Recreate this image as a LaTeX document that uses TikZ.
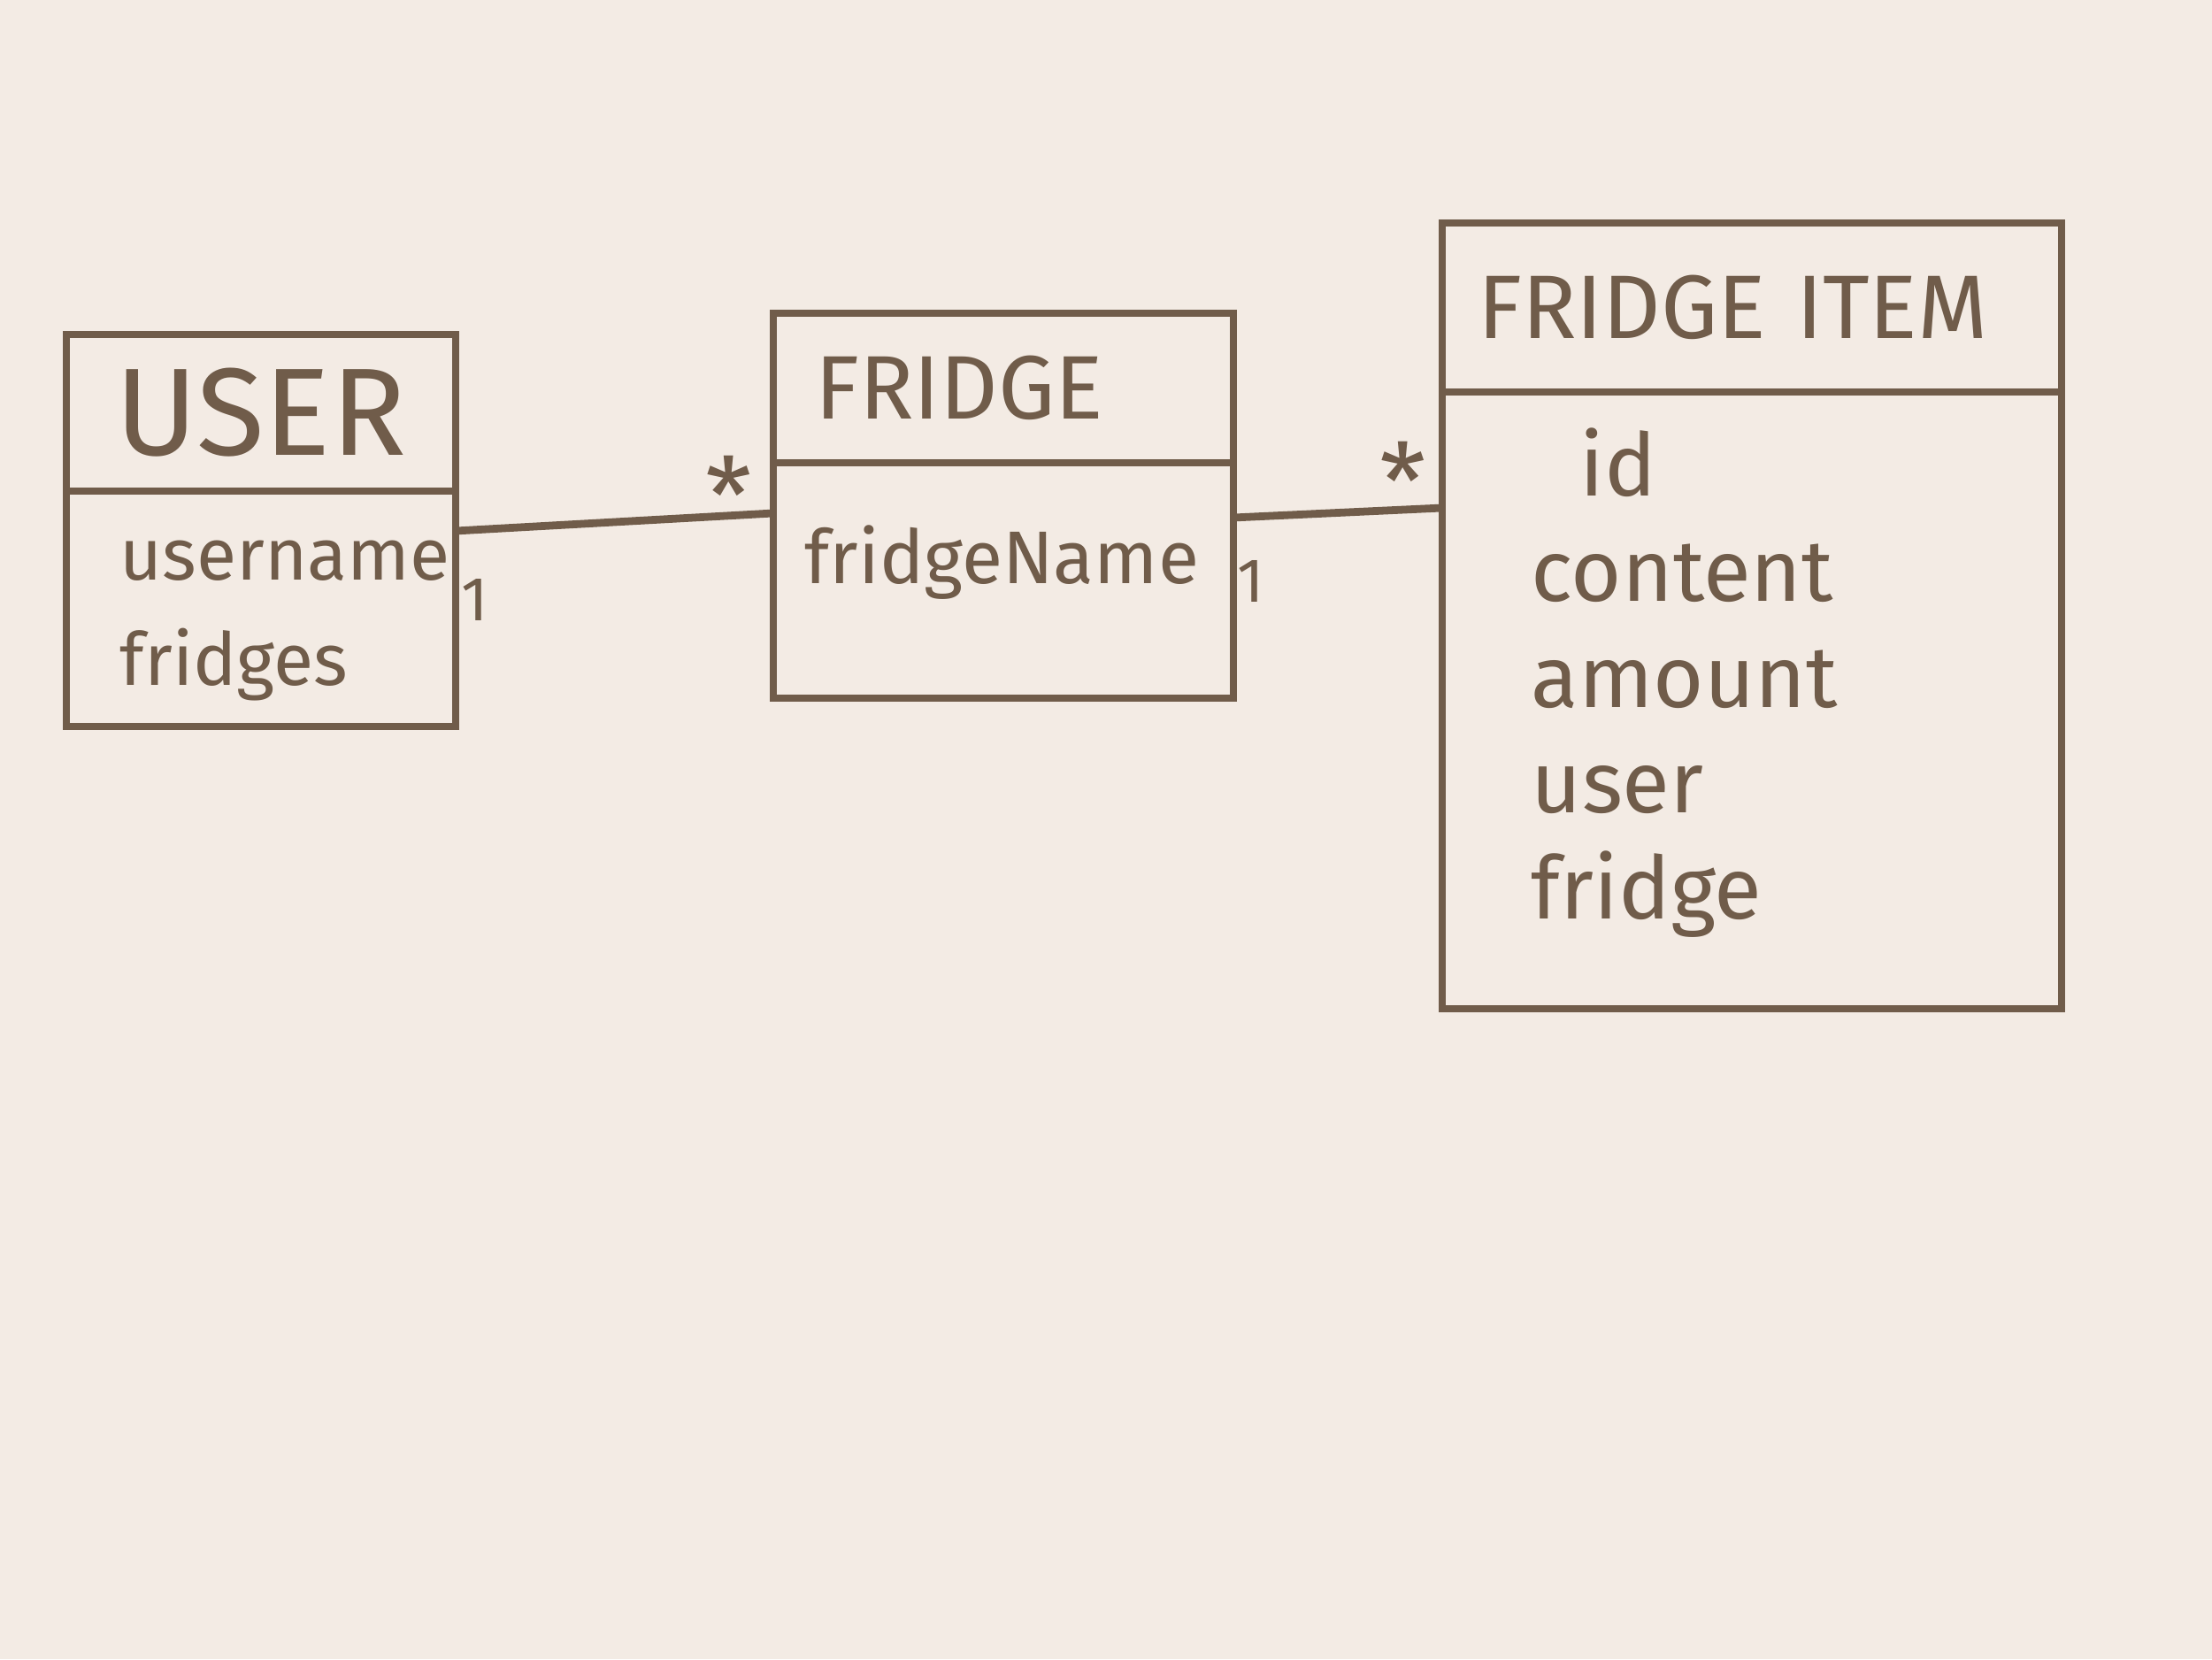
\documentclass[tikz,border=0pt]{standalone}
\usepackage{fontspec}
\setmainfont{Fira Sans}
\usetikzlibrary{positioning}
\definecolor{paper}{RGB}{243,235,228}
\definecolor{pencil}{RGB}{112,92,74}

\begin{document}
\begin{tikzpicture}[node distance=0pt, every node/.style={text=pencil},
  box/.style={draw=pencil, line width=2.5pt, inner sep=0pt, outer sep=0pt},
  head/.style={box, anchor=north west, align=left},
  attrs/.style={align=left, inner sep=0pt, anchor=north west},
  mult/.style={inner sep=0pt, font=\fontsize{20}{20}\selectfont},
  many/.style={inner sep=0pt, font=\fontsize{34}{34}\selectfont},
  conn/.style={draw=pencil, line width=2.5pt}]
\fill[paper] (0,0) rectangle (25,18.75);
\useasboundingbox (0,0) rectangle (25,18.75);

% user class
\node (user) [head, minimum width=4.4cm, minimum height=1.77cm, inner xsep=0.55cm, text width=3.3cm, font=\fontsize{40}{44}\selectfont] at (0.75,14.97) {USER};
\node (userbody) [box, below=of user, minimum width=4.4cm, minimum height=2.66cm] {};
\node (userattr) [attrs, font=\fontsize{23.5}{34}\selectfont] at ([xshift=0.6cm, yshift=-0.55cm]userbody.north west) {username\\fridges};

% fridge class
\node (fridge) [head, minimum width=5.2cm, minimum height=1.69cm, inner xsep=0.47cm, text width=4.26cm, font=\fontsize{29}{32}\selectfont] at (8.74,15.21) {FRIDGE};
\node (fridgebody) [box, below=of fridge, minimum width=5.2cm, minimum height=2.66cm] {};
\node (fridgeattr) [attrs, font=\fontsize{24}{32}\selectfont] at ([xshift=0.35cm, yshift=-0.70cm]fridgebody.north west) {fridgeName};

% fridge item class
\node (item) [head, minimum width=7.0cm, minimum height=1.91cm, inner xsep=0.4cm, text width=6.2cm, font=\fontsize{29}{32}\selectfont] at (16.30,16.23) {FRIDGE ITEM};
\node (itembody) [box, below=of item, minimum width=7.0cm, minimum height=6.97cm] {};
\node (itemattr) [attrs, font=\fontsize{28}{34}\selectfont] at ([xshift=1.0cm, yshift=-0.40cm]itembody.north west) {\hspace*{0.55cm}id\\content\\amount\\user\\fridge};

% associations
\coordinate (u1) at ([yshift=-0.45cm]userbody.north east);
\coordinate (f1) at ([yshift=-0.57cm]fridgebody.north west);
\coordinate (f2) at ([yshift=-0.62cm]fridgebody.north east);
\coordinate (i2) at ([yshift=-1.31cm]itembody.north west);
\draw[conn] (u1) -- (f1);
\draw[conn] (f2) -- (i2);
\node (m1) [mult] at ([xshift=0.22cm, yshift=-0.78cm]u1) {1};
\node (s1) [many] at ([xshift=-0.50cm, yshift=0.21cm]f1) {*};
\node (m2) [mult] at ([xshift=0.2cm, yshift=-0.72cm]f2) {1};
\node (s2) [many] at ([xshift=-0.44cm, yshift=0.31cm]i2) {*};
\end{tikzpicture}
\end{document}
